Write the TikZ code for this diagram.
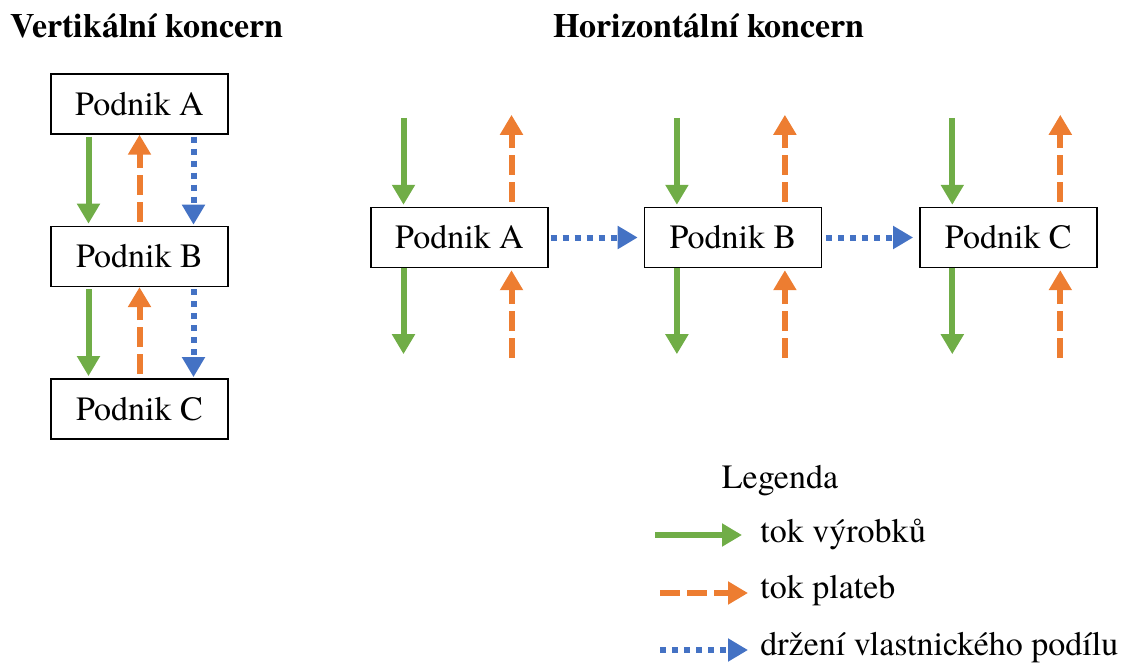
\documentclass[tikz,border=0pt]{standalone}
\usepackage{fontspec}
\setmainfont{texgyretermes}[Extension=.otf,UprightFont=*-regular,BoldFont=*-bold,ItalicFont=*-italic,BoldItalicFont=*-bolditalic]
\usetikzlibrary{arrows.meta,positioning}
\definecolor{zelena}{HTML}{70AD47}
\definecolor{oranzova}{HTML}{ED7D31}
\definecolor{modra}{HTML}{4472C4}

\begin{document}
\begin{tikzpicture}[x=0.5pt,y=-0.5pt]
\tikzstyle{podnik}=[draw,line width=0.7pt,minimum width=88.5pt,minimum height=30pt,inner sep=0pt,font=\fontsize{17}{20}\selectfont]
\tikzstyle{popis}=[inner sep=0pt,font=\fontsize{17}{20}\selectfont]
\tikzstyle{nadpis}=[inner sep=0pt,anchor=base,font=\fontsize{17}{20}\selectfont\bfseries]
\tikzstyle{vyrobky}=[zelena,line width=3pt,-{Triangle[width=11pt,length=10pt]}]
\tikzstyle{platby}=[oranzova,line width=3pt,dash pattern=on 10pt off 3.5pt,-{Triangle[width=11pt,length=10pt]}]
\tikzstyle{podil}=[modra,line width=3pt,dash pattern=on 3pt off 3pt,-{Triangle[width=11pt,length=10pt]}]
\useasboundingbox (0,0) rectangle (1124,664);

% vertikalni koncern
\node[nadpis] (tv) at (147,38) {Vertikální koncern};
\node[podnik] (vA) at (139.5,104) {Podnik A};
\node[podnik,below=45.5pt of vA] (vB) {Podnik B};
\node[podnik,below=45.5pt of vB] (vC) {Podnik C};
\foreach \a/\b in {vA/vB,vB/vC}{
  \draw[vyrobky,shorten <=1pt,shorten >=1pt] ([xshift=-25.5pt]\a.south) -- ([xshift=-25.5pt]\b.north);
  \draw[platby,shorten <=2pt] (\b.north) -- (\a.south);
  \draw[podil,shorten <=1pt,shorten >=0.5pt] ([xshift=27pt]\a.south) -- ([xshift=27pt]\b.north);
}

% horizontalni koncern
\node[nadpis] (th) at (709,38) {Horizontální koncern};
\node[podnik] (hA) at (459.5,237.5) {Podnik A};
\node[podnik,right=47.5pt of hA] (hB) {Podnik B};
\node[podnik,right=48.5pt of hB] (hC) {Podnik C};
\draw[podil,shorten <=1pt,shorten >=3pt] (hA.east) -- (hB.west);
\draw[podil,shorten <=2pt,shorten >=3pt] (hB.east) -- (hC.west);
\foreach \n in {hA,hB,hC}{
  \coordinate (\n-zh) at ([xshift=-28pt,yshift=44.5pt]\n.north);
  \coordinate (\n-zd) at ([xshift=-28pt,yshift=-43pt]\n.south);
  \coordinate (\n-oh) at ([xshift=26pt,yshift=46pt]\n.north);
  \coordinate (\n-od) at ([xshift=26pt,yshift=-45pt]\n.south);
  \draw[vyrobky,shorten >=1pt] (\n-zh) -- ([xshift=-28pt]\n.north);
  \draw[vyrobky] ([xshift=-28pt]\n.south) -- (\n-zd);
  \draw[platby,shorten <=2.5pt] ([xshift=26pt]\n.north) -- (\n-oh);
  \draw[platby,shorten >=1pt] (\n-od) -- ([xshift=26pt]\n.south);
}

% legenda
\node[popis,anchor=base] (leg) at (780,488) {Legenda};
\node[popis,anchor=base west] (lz) at (760,542) {tok výrobků};
\node[popis,anchor=base west] (lo) at (760,598) {tok plateb};
\node[popis,anchor=base west] (lm) at (760,655) {držení vlastnického podílu};
\coordinate (lz1) at (655,535);
\coordinate (lz2) at (742,535);
\coordinate (lo1) at (660,593);
\coordinate (lo2) at (748,593);
\coordinate (lm1) at (660,650);
\coordinate (lm2) at (748,650);
\draw[vyrobky] (lz1) -- (lz2);
\draw[platby] (lo1) -- (lo2);
\draw[podil] (lm1) -- (lm2);
\end{tikzpicture}
\end{document}
